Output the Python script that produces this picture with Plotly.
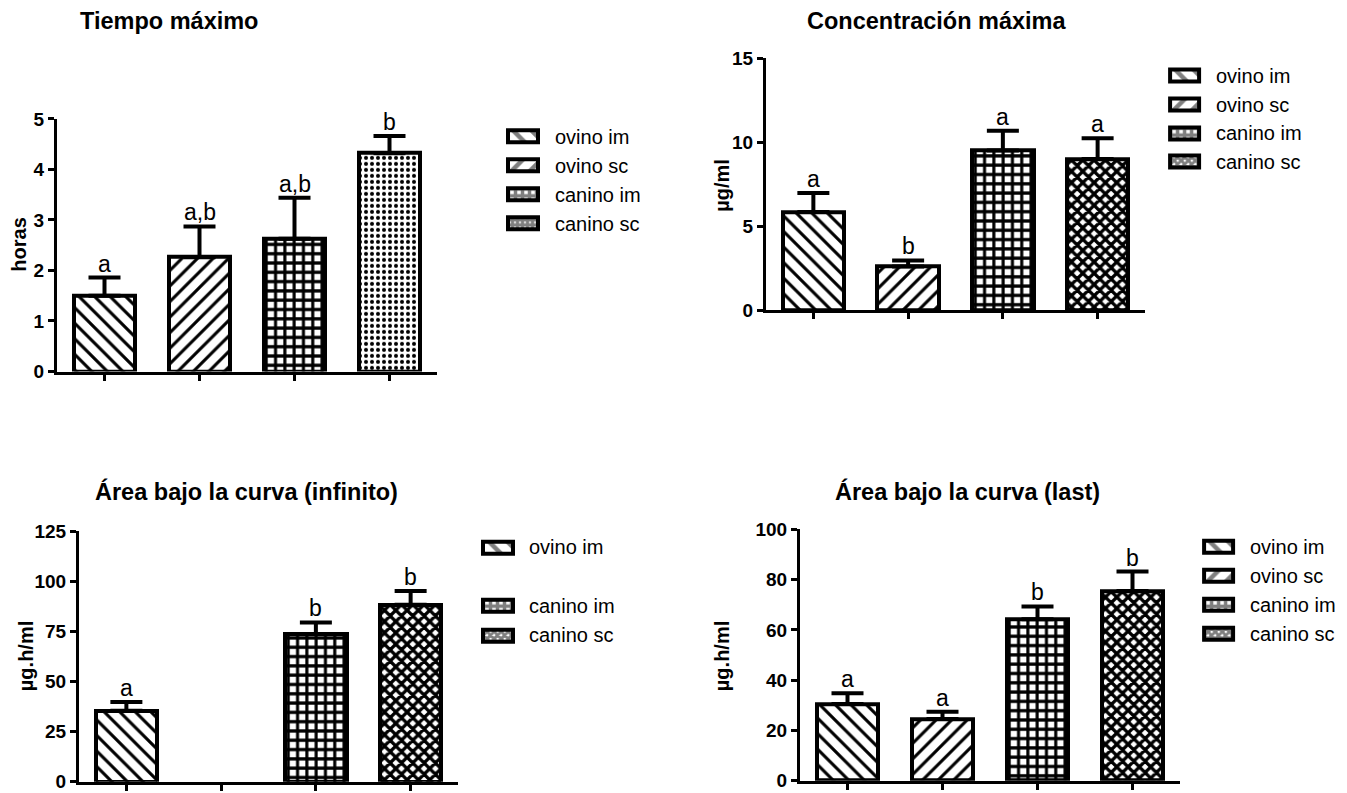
import plotly.graph_objects as go

W, H = 1347, 793

# ---------------- data ----------------
groups = ["ovino im", "ovino sc", "canino im", "canino sc"]

tmax_mean = [1.50, 2.26, 2.63, 4.32]
tmax_err = [0.36, 0.61, 0.81, 0.34]
tmax_letters = ["a", "a,b", "a,b", "b"]

cmax_mean = [5.85, 2.61, 9.51, 9.01]
cmax_err = [1.13, 0.36, 1.17, 1.23]
cmax_letters = ["a", "b", "a", "a"]

aucinf_mean = [35.4, None, 73.6, 88.2]
aucinf_err = [4.4, None, 5.8, 6.9]
aucinf_letters = ["a", "", "b", "b"]

auclast_mean = [30.5, 24.5, 64.2, 75.5]
auclast_err = [4.3, 2.9, 5.1, 7.7]
auclast_letters = ["a", "a", "b", "b"]

titles = ["Tiempo máximo", "Concentración máxima",
          "Área bajo la curva (infinito)", "Área bajo la curva (last)"]
ytitles = ["horas", "µg/ml", "µg.h/ml", "µg.h/ml"]
ymax = [5, 15, 125, 100]
ydtick = [1, 5, 25, 20]
legend_groups = [groups, groups, ["ovino im", None, "canino im", "canino sc"], groups]

# ---------------- layout geometry (target pixels) ----------------
FONT = "Liberation Sans, Arial, Helvetica, sans-serif"
panels = [
    dict(box=(57, 437, 119, 372), title=(169, 21), ytitle=(19, 245),
         leg_sw=(508, 538), leg_tx=553, leg_rows=(137, 224)),
    dict(box=(766, 1145, 58.3, 310.7), title=(937, 21), ytitle=(722, 186),
         leg_sw=(1170, 1199), leg_tx=1214, leg_rows=(76, 162)),
    dict(box=(79, 458, 531.7, 782.7), title=(246, 492), ytitle=(26, 657),
         leg_sw=(483, 513), leg_tx=527, leg_rows=(548, 636)),
    dict(box=(800, 1180, 530, 781.7), title=(967, 492), ytitle=(722, 657),
         leg_sw=(1204, 1233), leg_tx=1248, leg_rows=(548, 635)),
]

means = [tmax_mean, cmax_mean, aucinf_mean, auclast_mean]
errs = [tmax_err, cmax_err, aucinf_err, auclast_err]
letters = [tmax_letters, cmax_letters, aucinf_letters, auclast_letters]

# the photographed page shows the paper between y=10 and y=783
OFF, SPAN = 10.0, 773.0


def pxx(p):
    return p / W


def pxy(p):
    return min(1.0, max(0.0, 1 - (p - OFF) / SPAN))


def patterns(panel_idx, small=False):
    last = "." if panel_idx == 0 else "x"
    if small:
        return dict(shape=["\\", "/", "+", last],
                    size=[13, 13, 7, 5],
                    solidity=[0.35, 0.35, 0.75, 0.8])
    return dict(shape=["\\", "/", "+", last],
                size=[11, 11, 9.3, 6 if panel_idx == 0 else 8],
                solidity=[0.28, 0.28, 0.55, 0.35 if panel_idx == 0 else 0.65])


fig = go.Figure()
annotations = []
layout_axes = {}

for i, p in enumerate(panels):
    n = i + 1
    xa = "x" if n == 1 else f"x{n}"
    ya = "y" if n == 1 else f"y{n}"
    x0, x1, ytop, ybot = p["box"]
    pat = patterns(i)
    fig.add_trace(go.Bar(
        x=[0, 1, 2, 3], y=means[i], width=0.65,
        xaxis=xa, yaxis=ya, showlegend=False, hoverinfo="skip",
        marker=dict(color="white", line=dict(color="black", width=4),
                    pattern=dict(fgcolor="black", bgcolor="white", fillmode="replace", **pat)),
        error_y=dict(type="data", symmetric=False, array=errs[i],
                     arrayminus=[0, 0, 0, 0], color="black", thickness=4, width=16),
    ))
    layout_axes["xaxis" if n == 1 else f"xaxis{n}"] = dict(
        domain=[pxx(x0), pxx(x1)], anchor=ya, range=[-0.5, 3.5],
        showline=True, linewidth=3, linecolor="black", mirror=False,
        ticks="outside", ticklen=6, tickwidth=3, tickcolor="black",
        tickvals=[0, 1, 2, 3], showticklabels=False,
        showgrid=False, zeroline=False, fixedrange=True)
    layout_axes["yaxis" if n == 1 else f"yaxis{n}"] = dict(
        domain=[pxy(ybot), pxy(ytop)], anchor=xa, range=[0, ymax[i]],
        dtick=ydtick[i], tick0=0,
        showline=True, linewidth=3, linecolor="black",
        ticks="outside", ticklen=6, tickwidth=3, tickcolor="black",
        tickfont=dict(family=FONT, size=19, color="black", weight="bold"),
        showgrid=False, zeroline=False, fixedrange=True)

    for k in range(4):
        if means[i][k] is None or not letters[i][k]:
            continue
        annotations.append(dict(
            x=k, y=means[i][k] + errs[i][k], xref=xa, yref=ya,
            text=letters[i][k], showarrow=False, yanchor="bottom", xanchor="center",
            yshift=-1, font=dict(family=FONT, size=23, color="black")))

    tx, ty = p["title"]
    annotations.append(dict(
        x=pxx(tx), y=pxy(ty), xref="paper", yref="paper", text=titles[i],
        showarrow=False, xanchor="center", yanchor="middle",
        font=dict(family=FONT, size=23.5, color="black", weight="bold")))
    yx, yy = p["ytitle"]
    annotations.append(dict(
        x=pxx(yx), y=pxy(yy), xref="paper", yref="paper", text=ytitles[i],
        showarrow=False, xanchor="center", yanchor="middle", textangle=-90,
        font=dict(family=FONT, size=20, color="black", weight="bold")))

    # legend drawn as bars on a hidden axis
    m = n + 4
    lxa, lya = f"x{m}", f"y{m}"
    sx0, sx1 = p["leg_sw"]
    r0, r3 = p["leg_rows"]
    step = (r3 - r0) / 3
    items = legend_groups[i]
    idx = [k for k in range(4) if items[k] is not None]
    spat = patterns(i, small=True)
    fig.add_trace(go.Bar(
        x=[1] * len(idx), y=idx, base=0, orientation="h", width=12 / step,
        xaxis=lxa, yaxis=lya, showlegend=False, hoverinfo="skip",
        marker=dict(color="white", line=dict(color="black", width=4),
                    pattern=dict(fgcolor="black", bgcolor="white",
                                 shape=[spat["shape"][k] for k in idx],
                                 size=[spat["size"][k] for k in idx],
                                 solidity=[spat["solidity"][k] for k in idx])),
    ))
    sw = sx1 - sx0
    layout_axes[f"xaxis{m}"] = dict(
        domain=[pxx(sx0 - 0.1 * sw), pxx(sx1 + 0.1 * sw)], range=[-0.1, 1.1],
        visible=False, anchor=lya, fixedrange=True)
    layout_axes[f"yaxis{m}"] = dict(
        domain=[pxy(r3 + step / 2), pxy(r0 - step / 2)], range=[3.5, -0.5],
        visible=False, anchor=lxa, fixedrange=True)
    for k in idx:
        annotations.append(dict(
            x=pxx(p["leg_tx"]), y=pxy(r0 + step * k), xref="paper", yref="paper",
            text=items[k], showarrow=False, xanchor="left", yanchor="middle",
            font=dict(family=FONT, size=20, color="black")))

fig.update_layout(
    width=W, height=H, margin=dict(l=0, r=0, t=0, b=0, pad=0),
    paper_bgcolor="white", plot_bgcolor="white",
    showlegend=False, annotations=annotations, bargap=0,
    font=dict(family=FONT, color="black"),
    **layout_axes)

fig.write_html("out.html", config={"displayModeBar": False})
